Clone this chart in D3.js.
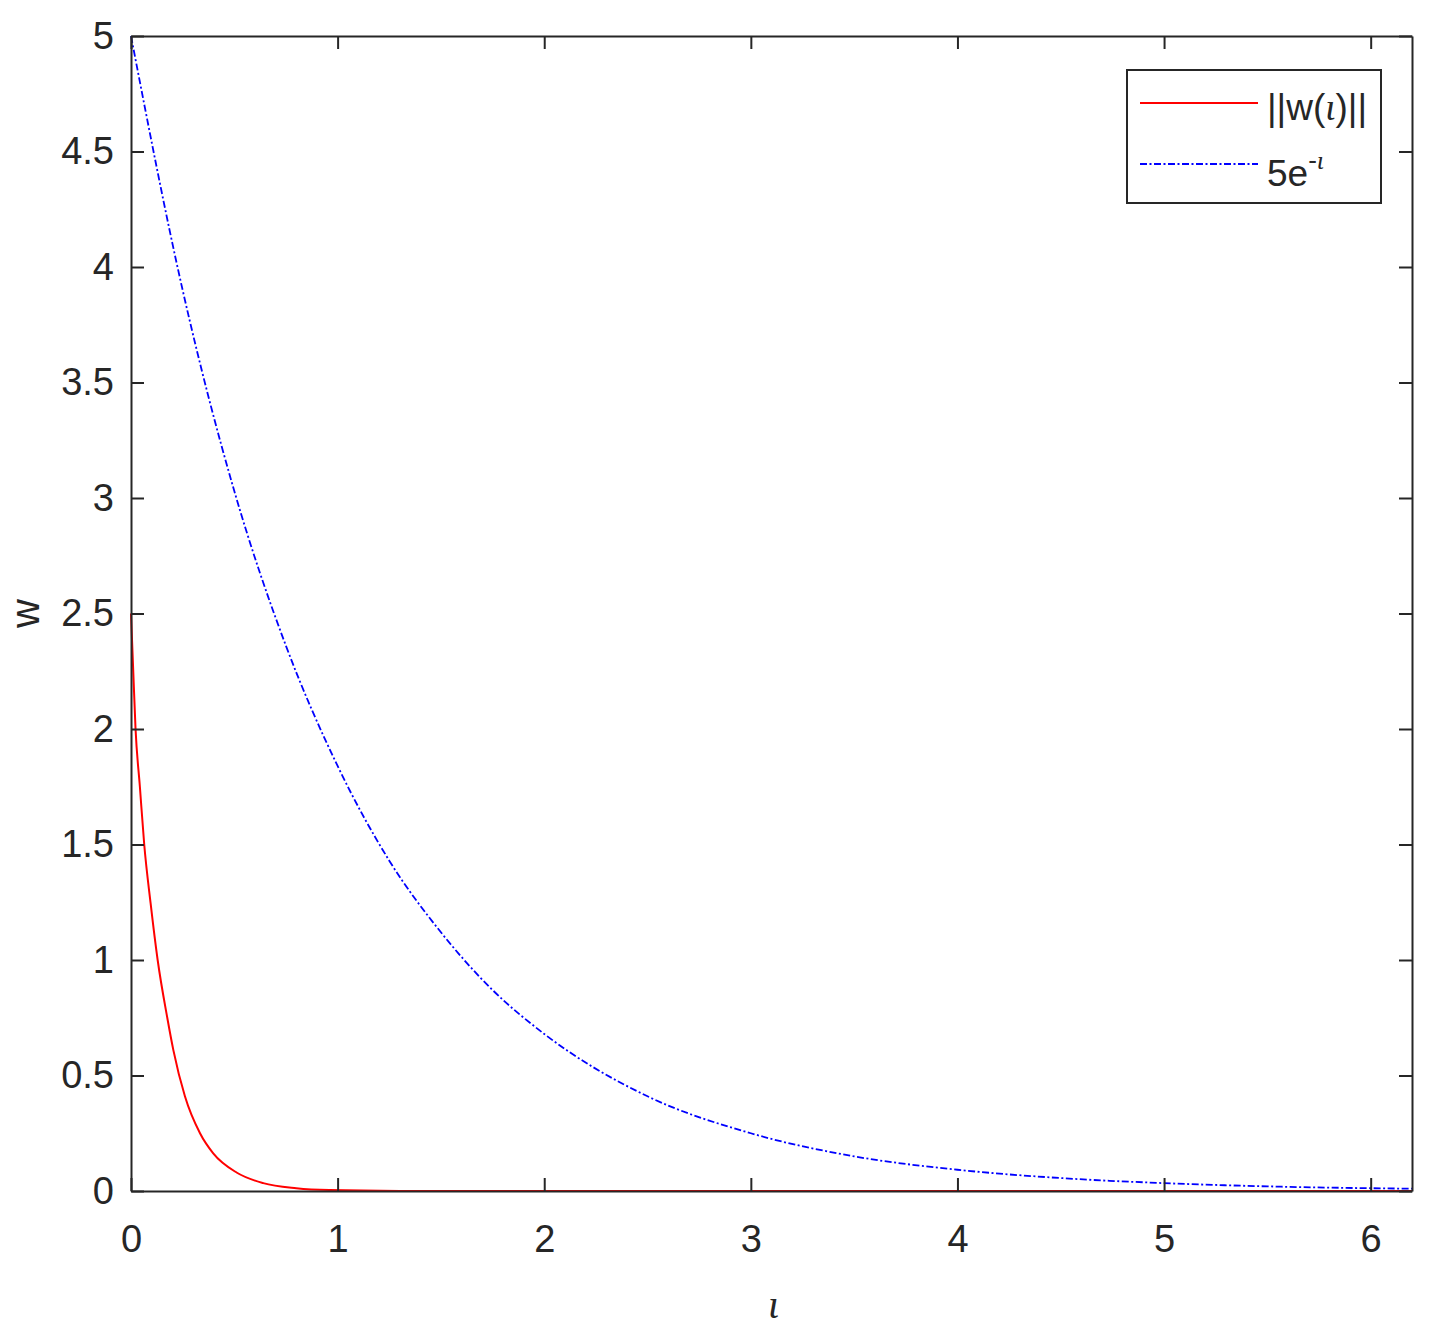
<!DOCTYPE html>
<html>
<head>
<meta charset="utf-8">
<script src="https://cdn.jsdelivr.net/npm/d3@7"></script>
<style>
  body { margin: 0; background: #fff; overflow: hidden; }
  text { font-family: "Liberation Sans", Arial, sans-serif; fill: #262626; }
  .iota { font-family: "Liberation Serif", "Times New Roman", serif; font-style: italic; }
</style>
</head>
<body>
<script>
'use strict';

// values
const tRed = [0, 0.01, 0.022, 0.043, 0.064, 0.095, 0.129, 0.176, 0.205, 0.261, 0.334, 0.398, 0.511, 0.64, 0.8, 0.96, 1.3, 2, 3, 4, 5, 6.2];
const wRed = [2.5, 2.27, 2.0, 1.75, 1.5, 1.245, 1.0, 0.748, 0.61, 0.41, 0.25, 0.163, 0.08, 0.034, 0.012, 0.004, 0.0005, 0, 0, 0, 0, 0];

const tBlue = [0, 0.25, 0.5, 0.75, 1, 1.25, 1.5, 1.75, 2, 2.5, 3, 3.5, 4, 4.5, 5, 5.5, 6, 6.2];
const wBlue = [5.0, 3.9, 3.03, 2.36, 1.84, 1.43, 1.12, 0.87, 0.68, 0.41, 0.25, 0.15, 0.092, 0.056, 0.034, 0.02, 0.012, 0.01];

const xTicks = [0, 1, 2, 3, 4, 5, 6];
const yTicks = [0, 0.5, 1, 1.5, 2, 2.5, 3, 3.5, 4, 4.5, 5];

(function () {
  const width = 1446, height = 1341;
  const left = 131, right = 1412, top = 36, bottom = 1191;
  const axisColor = "#262626";
  const blueDash = "7,2.5,2,2.5";

  const svg = d3.select("body").append("svg")
    .attr("width", width)
    .attr("height", height)
    .style("display", "block");

  const x = d3.scaleLinear().domain([0, 6.2]).range([left, right]);
  const y = d3.scaleLinear().domain([0, 5]).range([bottom, top]);

  // curves
  const line = d3.line()
    .x(d => x(d[0]))
    .y(d => y(d[1]))
    .curve(d3.curveMonotoneX);

  svg.append("path")
    .datum(tBlue.map((t, i) => [t, wBlue[i]]))
    .attr("fill", "none")
    .attr("stroke", "#0000ff")
    .attr("stroke-width", 1.8)
    .attr("stroke-dasharray", blueDash)
    .attr("d", line);

  svg.append("path")
    .datum(tRed.map((t, i) => [t, wRed[i]]))
    .attr("fill", "none")
    .attr("stroke", "#ff0000")
    .attr("stroke-width", 2)
    .attr("d", line);

  // box axes with inward ticks on all sides
  const tickLen = 13;
  const fmt = d3.format("");

  function styleAxis(g) {
    g.selectAll(".domain").attr("stroke", axisColor).attr("stroke-width", 2);
    g.selectAll(".tick line").attr("stroke", axisColor).attr("stroke-width", 2);
  }

  svg.append("g")
    .attr("transform", "translate(0," + bottom + ")")
    .call(d3.axisBottom(x).tickValues(xTicks).tickSizeInner(-tickLen).tickSizeOuter(0).tickFormat(fmt))
    .call(styleAxis)
    .call(g => g.selectAll("text").style("font-size", "38px").attr("fill", axisColor).attr("dy", "0.71em").attr("y", 34));

  svg.append("g")
    .attr("transform", "translate(0," + top + ")")
    .call(d3.axisTop(x).tickValues(xTicks).tickSizeInner(-tickLen).tickSizeOuter(0).tickFormat(""))
    .call(styleAxis);

  svg.append("g")
    .attr("transform", "translate(" + left + ",0)")
    .call(d3.axisLeft(y).tickValues(yTicks).tickSizeInner(-tickLen).tickSizeOuter(0).tickFormat(fmt))
    .call(styleAxis)
    .call(g => g.selectAll("text").style("font-size", "38px").attr("fill", axisColor).attr("x", -17));

  svg.append("g")
    .attr("transform", "translate(" + right + ",0)")
    .call(d3.axisRight(y).tickValues(yTicks).tickSizeInner(-tickLen).tickSizeOuter(0).tickFormat(""))
    .call(styleAxis);

  // axis labels
  svg.append("text")
    .attr("class", "iota")
    .attr("x", x(3.1) + 2)
    .attr("y", 1318)
    .attr("text-anchor", "middle")
    .style("font-size", "40px")
    .text("ι");

  svg.append("text")
    .attr("transform", "translate(39," + y(2.5) + ")rotate(-90)")
    .attr("text-anchor", "middle")
    .style("font-size", "40px")
    .text("w");

  // legend
  const lg = svg.append("g");
  lg.append("rect")
    .attr("x", 1127).attr("y", 70)
    .attr("width", 254).attr("height", 133)
    .attr("fill", "#fff")
    .attr("stroke", axisColor)
    .attr("stroke-width", 2);

  lg.append("line")
    .attr("x1", 1140).attr("x2", 1258)
    .attr("y1", 103).attr("y2", 103)
    .attr("stroke", "#ff0000").attr("stroke-width", 2);

  lg.append("line")
    .attr("x1", 1140).attr("x2", 1258)
    .attr("y1", 164).attr("y2", 164)
    .attr("stroke", "#0000ff").attr("stroke-width", 1.8)
    .attr("stroke-dasharray", blueDash);

  const t1 = lg.append("text")
    .attr("x", 1267).attr("y", 120)
    .style("font-size", "37px")
    .attr("fill", "#000");
  t1.append("tspan").text("||w(");
  t1.append("tspan").attr("class", "iota").text("ι");
  t1.append("tspan").text(")||");

  const t2 = lg.append("text")
    .attr("x", 1267).attr("y", 186)
    .style("font-size", "37px")
    .attr("fill", "#000");
  t2.append("tspan").text("5e");
  t2.append("tspan").attr("dy", -17).style("font-size", "26px").text("-");
  t2.append("tspan").attr("class", "iota").style("font-size", "26px").text("ι");
})();
</script>
</body>
</html>
